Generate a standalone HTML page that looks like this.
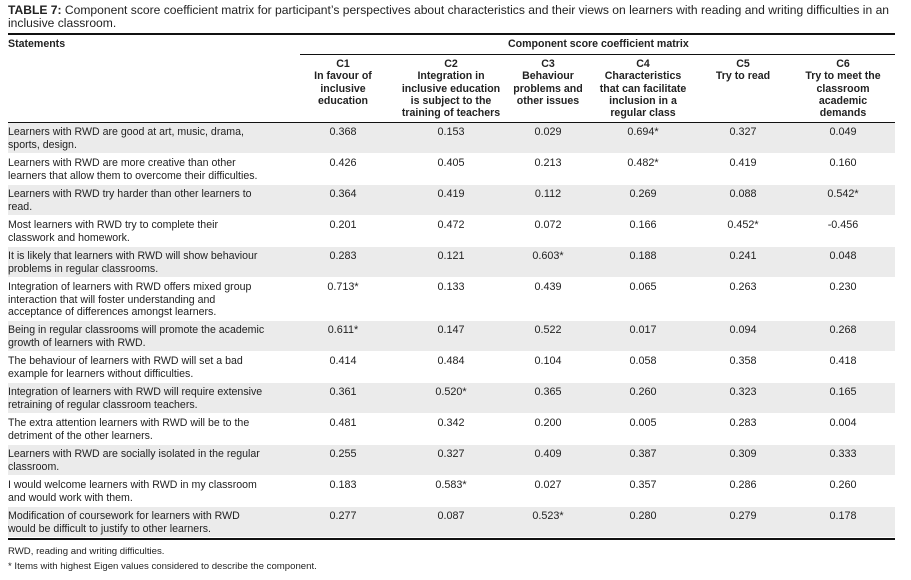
<!DOCTYPE html>
<html><head><meta charset="utf-8"><style>
body{margin:0;width:911px;height:580px;background:#fff;position:relative;font-family:"Liberation Sans",sans-serif;color:#222;overflow:hidden}
.a{position:absolute;white-space:nowrap}
.t{font-size:12.1px;line-height:13px}
.s{font-size:10.6px;line-height:12.5px}
.h{font-size:10.6px;line-height:12.3px;text-align:center;width:116px;transform:translateX(-58px)}
.v{font-size:10.8px;width:80px;text-align:center;transform:translateX(-40px)}
.g{position:absolute;left:8px;width:887px;background:#ebebeb}
.r{position:absolute;background:#111}
</style></head><body>
<div class="a t" style="left:8px;top:4px"><b>TABLE 7:</b> Component score coefficient matrix for participant’s perspectives about characteristics and their views on learners with reading and writing difficulties in an</div>
<div class="a t" style="left:8px;top:17px">inclusive classroom.</div>
<div class="r" style="left:8px;top:33px;width:887px;height:2px"></div>
<div class="a s" style="left:8px;top:38px;font-weight:bold">Statements</div>
<div class="a s" style="left:508px;top:38px;font-weight:bold">Component score coefficient matrix</div>
<div class="r" style="left:300px;top:54px;width:595px;height:1px"></div>
<div class="a h" style="left:343px;top:58px;font-weight:bold">C1<br>In favour of<br>inclusive<br>education</div>
<div class="a h" style="left:451px;top:58px;font-weight:bold">C2<br>Integration in<br>inclusive education<br>is subject to the<br>training of teachers</div>
<div class="a h" style="left:548px;top:58px;font-weight:bold">C3<br>Behaviour<br>problems and<br>other issues</div>
<div class="a h" style="left:643px;top:58px;font-weight:bold">C4<br>Characteristics<br>that can facilitate<br>inclusion in a<br>regular class</div>
<div class="a h" style="left:743px;top:58px;font-weight:bold">C5<br>Try to read</div>
<div class="a h" style="left:843px;top:58px;font-weight:bold">C6<br>Try to meet the<br>classroom<br>academic<br>demands</div>
<div class="r" style="left:8px;top:122px;width:887px;height:1px"></div>
<div id="rows"></div>
<div class="r" style="left:8px;top:538px;width:887px;height:2px"></div>
<div class="a" style="left:8px;top:546px;font-size:9.6px">RWD, reading and writing difficulties.</div>
<div class="a" style="left:8px;top:561px;font-size:9.6px">* Items with highest Eigen values considered to describe the component.</div>
<script>
var d=[
[["Learners with RWD are good at art, music, drama,","sports, design."],["0.368","0.153","0.029","0.694*","0.327","0.049"]],
[["Learners with RWD are more creative than other","learners that allow them to overcome their difficulties."],["0.426","0.405","0.213","0.482*","0.419","0.160"]],
[["Learners with RWD try harder than other learners to","read."],["0.364","0.419","0.112","0.269","0.088","0.542*"]],
[["Most learners with RWD try to complete their","classwork and homework."],["0.201","0.472","0.072","0.166","0.452*","-0.456"]],
[["It is likely that learners with RWD will show behaviour","problems in regular classrooms."],["0.283","0.121","0.603*","0.188","0.241","0.048"]],
[["Integration of learners with RWD offers mixed group","interaction that will foster understanding and","acceptance of differences amongst learners."],["0.713*","0.133","0.439","0.065","0.263","0.230"]],
[["Being in regular classrooms will promote the academic","growth of learners with RWD."],["0.611*","0.147","0.522","0.017","0.094","0.268"]],
[["The behaviour of learners with RWD will set a bad","example for learners without difficulties."],["0.414","0.484","0.104","0.058","0.358","0.418"]],
[["Integration of learners with RWD will require extensive","retraining of regular classroom teachers."],["0.361","0.520*","0.365","0.260","0.323","0.165"]],
[["The extra attention learners with RWD will be to the","detriment of the other learners."],["0.481","0.342","0.200","0.005","0.283","0.004"]],
[["Learners with RWD are socially isolated in the regular","classroom."],["0.255","0.327","0.409","0.387","0.309","0.333"]],
[["I would welcome learners with RWD in my classroom","and would work with them."],["0.183","0.583*","0.027","0.357","0.286","0.260"]],
[["Modification of coursework for learners with RWD","would be difficult to justify to other learners."],["0.277","0.087","0.523*","0.280","0.279","0.178"]]];
var tops=[123,154,185,216,247,278,321,352,383,414,445,476,507,538];
var cx=[343,451,548,643,743,843],h="";
d.forEach(function(r,i){var t=tops[i],b=tops[i+1];
if(i%2==0)h+='<div class="g" style="top:'+t+'px;height:'+(b-t-1)+'px"></div>';
h+='<div class="a s" style="left:8px;top:'+(t+3)+'px">'+r[0].join("<br>")+'</div>';
r[1].forEach(function(v,j){h+='<div class="a v" style="left:'+cx[j]+'px;top:'+(t+3)+'px">'+v+'</div>';});});
document.getElementById("rows").innerHTML=h;
</script>
</body></html>
